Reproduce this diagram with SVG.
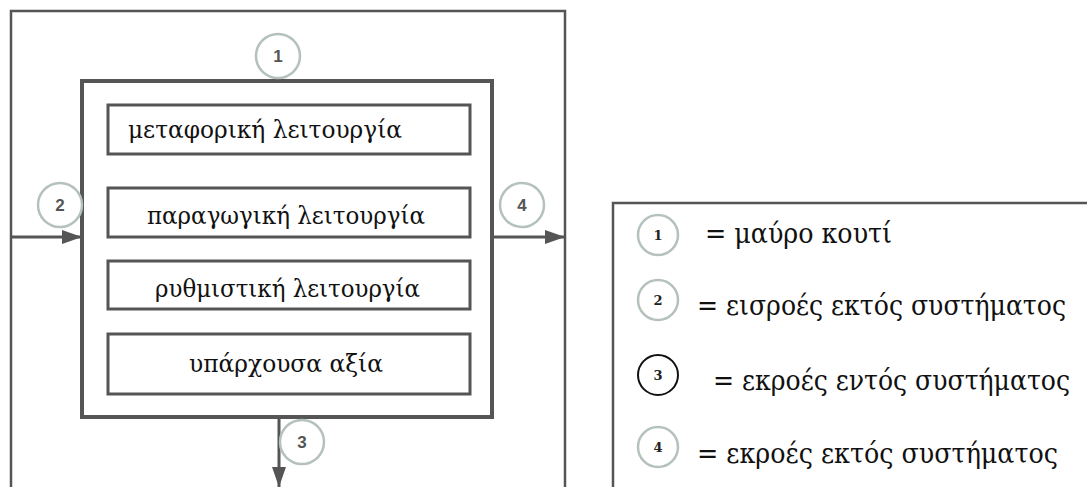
<svg xmlns="http://www.w3.org/2000/svg" width="1087" height="487" viewBox="0 0 1087 487">
<defs>
<marker id="ah" viewBox="0 0 20 14" refX="20" refY="7" markerWidth="20" markerHeight="14" markerUnits="userSpaceOnUse" orient="auto">
<path d="M0,0 L20,7 L0,14 z" fill="#555"/>
</marker>
</defs>
<style>
.frame{fill:none;stroke:#555;stroke-width:2.5}
.inner{fill:#fff;stroke:#555;stroke-width:4}
.box{fill:#fff;stroke:#555;stroke-width:3}
.lbl{font-family:'DejaVu Serif',serif;font-size:25px;fill:#111}
.circ{fill:#fff;stroke:#b4c2bb;stroke-width:2.5}
.num{font-family:'Liberation Sans',Arial,sans-serif;font-weight:bold;font-size:17px;fill:#555;text-anchor:middle}
.lnum{font-family:'DejaVu Serif',serif;font-weight:bold;font-size:13px;fill:#222;text-anchor:middle}
.leg{font-family:'DejaVu Serif',serif;font-stretch:condensed;font-size:27px;fill:#111}
.conn{fill:none;stroke:#555;stroke-width:3;marker-end:url(#ah)}
</style>
<rect width="1087" height="487" fill="#fff"/>
<path class="frame" d="M11,487 V11 H565 V487"/>
<g id="system">
<rect class="inner" x="82" y="81" width="410" height="336"/>
</g>
<g id="n-metaforiki">
<rect class="box" x="108" y="105" width="362" height="49"/>
<text class="lbl" x="128" y="138" textLength="274" lengthAdjust="spacingAndGlyphs">μεταφορική λειτουργία</text>
</g>
<g id="n-paragogiki">
<rect class="box" x="108" y="188" width="362" height="49"/>
<text class="lbl" x="147" y="224" textLength="278" lengthAdjust="spacingAndGlyphs">παραγωγική λειτουργία</text>
</g>
<g id="n-rythmistiki">
<rect class="box" x="108" y="261" width="362" height="48"/>
<text class="lbl" x="155" y="297" textLength="265" lengthAdjust="spacingAndGlyphs">ρυθμιστική λειτουργία</text>
</g>
<g id="n-axia">
<rect class="box" x="108" y="334" width="362" height="60"/>
<text class="lbl" x="189" y="372" textLength="194" lengthAdjust="spacingAndGlyphs">υπάρχουσα αξία</text>
</g>
<g id="connectors">
<line class="conn" x1="11" y1="237" x2="82" y2="237"/>
<line class="conn" x1="492" y1="237" x2="565" y2="237"/>
<line class="conn" x1="279" y1="417" x2="279" y2="487"/>
</g>
<g id="c1">
<circle class="circ" cx="278" cy="56" r="22"/>
<text class="num" x="278" y="62">1</text>
</g>
<g id="c2">
<circle class="circ" cx="60" cy="205" r="22"/>
<text class="num" x="60" y="211">2</text>
</g>
<g id="c4">
<circle class="circ" cx="522" cy="205" r="22"/>
<text class="num" x="522" y="211">4</text>
</g>
<g id="c3">
<circle class="circ" cx="302" cy="442" r="22"/>
<text class="num" x="302" y="448">3</text>
</g>
<g id="legend">
<path class="frame" d="M613,487 V203 H1087"/>
<circle class="circ" cx="658" cy="235" r="20"/>
<text class="lnum" x="658" y="240">1</text>
<text class="leg" x="705" y="243" textLength="187" lengthAdjust="spacingAndGlyphs">= μαύρο κουτί</text>
<circle class="circ" cx="658" cy="300" r="20"/>
<text class="lnum" x="658" y="305">2</text>
<text class="leg" x="697" y="315" textLength="369" lengthAdjust="spacingAndGlyphs">= εισροές εκτός συστήματος</text>
<circle cx="658" cy="375" r="20" fill="#fff" stroke="#111" stroke-width="2"/>
<text class="lnum" x="658" y="380">3</text>
<text class="leg" x="713" y="390" textLength="357" lengthAdjust="spacingAndGlyphs">= εκροές εντός συστήματος</text>
<circle class="circ" cx="658" cy="447" r="20"/>
<text class="lnum" x="658" y="452">4</text>
<text class="leg" x="697" y="463" textLength="361" lengthAdjust="spacingAndGlyphs">= εκροές εκτός συστήματος</text>
</g>
</svg>
